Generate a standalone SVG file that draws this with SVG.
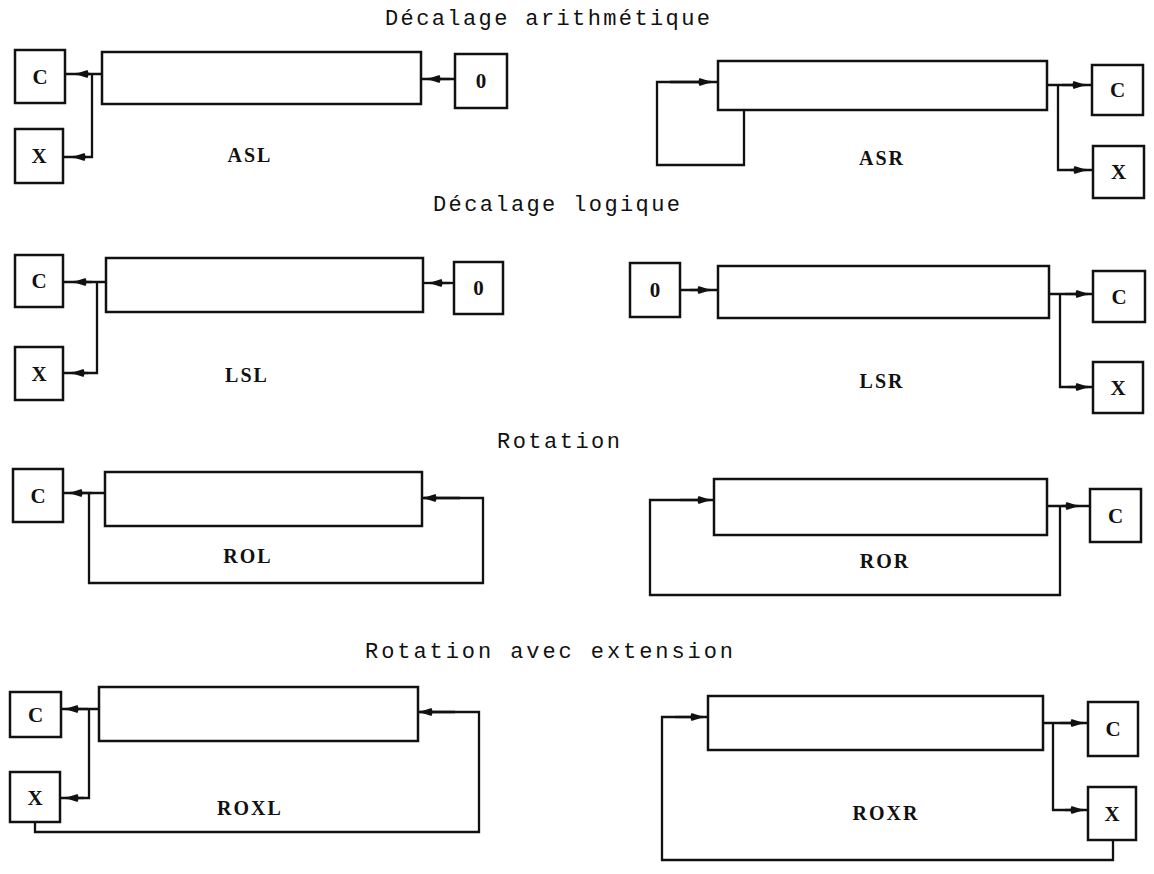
<svg xmlns="http://www.w3.org/2000/svg" width="1154" height="874" viewBox="0 0 1154 874">
<style>
.box{fill:#fff;stroke:#111;stroke-width:2.5}
.ln{fill:none;stroke:#111;stroke-width:2.3}
.arr{fill:none;stroke:#111;stroke-width:2.3;marker-end:url(#ah)}
.t{font-family:"Liberation Mono",monospace;font-size:22px;fill:#111}
.lbl{font-family:"Liberation Serif",serif;font-weight:bold;font-size:20px;fill:#111;text-anchor:middle;letter-spacing:2px}
.bx{font-family:"Liberation Serif",serif;font-weight:bold;font-size:21px;fill:#111;text-anchor:middle}
</style>
<defs>
<marker id="ah" markerUnits="userSpaceOnUse" markerWidth="14" markerHeight="10" viewBox="0 0 14 10" refX="13" refY="5" orient="auto"><path d="M1.5,1 L14,5 L1.5,9 Q-0.5,5 1.5,1 Z" fill="#111"/></marker>
</defs>
<rect width="1154" height="874" fill="#fff"/>
<g id="titles">
<text class="t" x="385" y="25" textLength="325" lengthAdjust="spacing">Décalage arithmétique</text>
<text class="t" x="433" y="211" textLength="247" lengthAdjust="spacing">Décalage logique</text>
<text class="t" x="497" y="448" textLength="123" lengthAdjust="spacing">Rotation</text>
<text class="t" x="365" y="658" textLength="368" lengthAdjust="spacing">Rotation avec extension</text>
</g>
<g id="connectors">
<!-- ASL -->
<path class="ln" d="M102,74 H65"/><path class="arr" d="M90,74 H76"/>
<path class="ln" d="M92,74 V157 H63"/><path class="arr" d="M86,157 H73"/>
<path class="ln" d="M455,79 H421"/><path class="arr" d="M450,79 H428"/>
<!-- ASR -->
<path class="ln" d="M1047,85 H1092"/><path class="arr" d="M1062,85 H1085"/>
<path class="ln" d="M1058,85 V170 H1093"/><path class="arr" d="M1070,170 H1086"/>
<path class="ln" d="M744,110 V165 H657 V82 H718"/><path class="arr" d="M670,82 H711"/>
<!-- LSL -->
<path class="ln" d="M106,282 H63"/><path class="arr" d="M92,282 H74"/>
<path class="ln" d="M97,282 V373 H63"/><path class="arr" d="M88,373 H72"/>
<path class="ln" d="M454,283 H423"/><path class="arr" d="M450,283 H430"/>
<!-- LSR -->
<path class="ln" d="M680,290 H718"/><path class="arr" d="M690,290 H710"/>
<path class="ln" d="M1049,294 H1093"/><path class="arr" d="M1065,294 H1088"/>
<path class="ln" d="M1060,294 V387 H1093"/><path class="arr" d="M1068,387 H1088"/>
<!-- ROL -->
<path class="ln" d="M105,493 H63"/><path class="arr" d="M92,493 H70"/>
<path class="ln" d="M89,493 V583 H483 V498 H422"/><path class="arr" d="M460,498 H424"/>
<!-- ROR -->
<path class="ln" d="M1047,506 H1090"/><path class="arr" d="M1062,506 H1078"/>
<path class="ln" d="M1060,506 V595 H650 V500 H714"/><path class="arr" d="M680,500 H710"/>
<!-- ROXL -->
<path class="ln" d="M99,709 H61"/><path class="arr" d="M88,709 H66"/>
<path class="ln" d="M89,709 V798 H60"/><path class="arr" d="M84,798 H66"/>
<path class="ln" d="M35,822 V832 H479 V712 H418"/><path class="arr" d="M455,712 H420"/>
<!-- ROXR -->
<path class="ln" d="M1043,723 H1088"/><path class="arr" d="M1060,723 H1083"/>
<path class="ln" d="M1053,723 V810 H1088"/><path class="arr" d="M1065,810 H1083"/>
<path class="ln" d="M1113,840 V860 H662 V717 H708"/><path class="arr" d="M675,717 H703"/>
</g>
<g id="asl">
<rect id="asl-reg" class="box" x="102" y="52" width="319" height="52"/>
<g id="asl-c"><rect class="box" x="15" y="50" width="50" height="53"/><text class="bx" x="40" y="84">C</text></g>
<g id="asl-x"><rect class="box" x="15" y="129" width="48" height="54"/><text class="bx" x="39" y="163">X</text></g>
<g id="asl-0"><rect class="box" x="455" y="54" width="52" height="54"/><text class="bx" x="481" y="88">0</text></g>
<text class="lbl" x="250" y="162">ASL</text>
</g>
<g id="asr">
<rect id="asr-reg" class="box" x="718" y="61" width="329" height="49"/>
<g id="asr-c"><rect class="box" x="1092" y="65" width="51" height="50"/><text class="bx" x="1117.5" y="97">C</text></g>
<g id="asr-x"><rect class="box" x="1093" y="146" width="51" height="52"/><text class="bx" x="1118.5" y="179">X</text></g>
<text class="lbl" x="882" y="165">ASR</text>
</g>
<g id="lsl">
<rect id="lsl-reg" class="box" x="106" y="258" width="317" height="54"/>
<g id="lsl-c"><rect class="box" x="15" y="255" width="48" height="52"/><text class="bx" x="39" y="288">C</text></g>
<g id="lsl-x"><rect class="box" x="15" y="347" width="48" height="53"/><text class="bx" x="39" y="381">X</text></g>
<g id="lsl-0"><rect class="box" x="454" y="262" width="49" height="52"/><text class="bx" x="478.5" y="295">0</text></g>
<text class="lbl" x="247" y="382">LSL</text>
</g>
<g id="lsr">
<rect id="lsr-reg" class="box" x="718" y="266" width="331" height="52"/>
<g id="lsr-0"><rect class="box" x="630" y="263" width="50" height="54"/><text class="bx" x="655" y="297">0</text></g>
<g id="lsr-c"><rect class="box" x="1093" y="271" width="52" height="51"/><text class="bx" x="1119" y="304">C</text></g>
<g id="lsr-x"><rect class="box" x="1093" y="362" width="50" height="51"/><text class="bx" x="1118" y="395">X</text></g>
<text class="lbl" x="882" y="388">LSR</text>
</g>
<g id="rol">
<rect id="rol-reg" class="box" x="105" y="472" width="317" height="54"/>
<g id="rol-c"><rect class="box" x="13" y="469" width="50" height="53"/><text class="bx" x="38" y="503">C</text></g>
<text class="lbl" x="248" y="563">ROL</text>
</g>
<g id="ror">
<rect id="ror-reg" class="box" x="714" y="479" width="333" height="56"/>
<g id="ror-c"><rect class="box" x="1090" y="489" width="51" height="53"/><text class="bx" x="1115.5" y="523">C</text></g>
<text class="lbl" x="885" y="568">ROR</text>
</g>
<g id="roxl">
<rect id="roxl-reg" class="box" x="99" y="687" width="319" height="54"/>
<g id="roxl-c"><rect class="box" x="10" y="692" width="51" height="45"/><text class="bx" x="35.5" y="722">C</text></g>
<g id="roxl-x"><rect class="box" x="10" y="772" width="50" height="50"/><text class="bx" x="35" y="805">X</text></g>
<text class="lbl" x="250" y="815">ROXL</text>
</g>
<g id="roxr">
<rect id="roxr-reg" class="box" x="708" y="696" width="335" height="54"/>
<g id="roxr-c"><rect class="box" x="1088" y="702" width="50" height="54"/><text class="bx" x="1113" y="736">C</text></g>
<g id="roxr-x"><rect class="box" x="1088" y="787" width="48" height="53"/><text class="bx" x="1112" y="821">X</text></g>
<text class="lbl" x="886" y="820">ROXR</text>
</g>
</svg>
